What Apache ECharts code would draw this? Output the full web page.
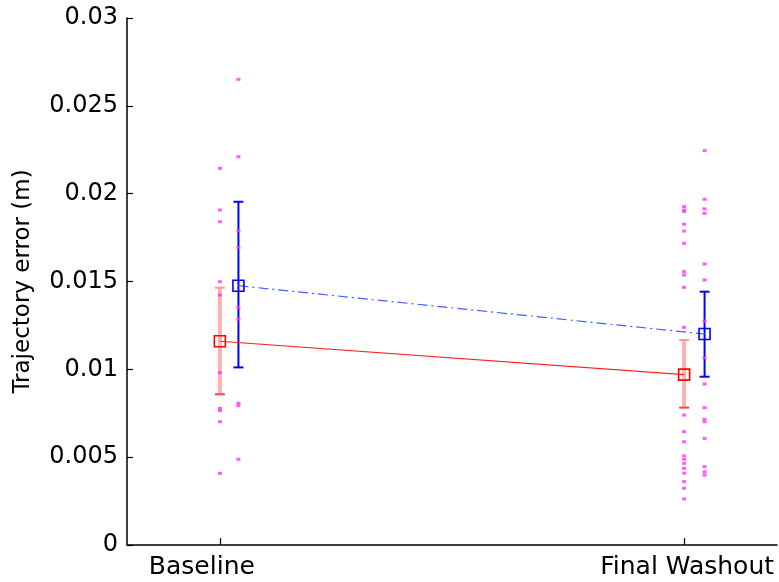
<!DOCTYPE html>
<html>
<head>
<meta charset="utf-8">
<script src="https://cdn.jsdelivr.net/npm/echarts@6/dist/echarts.min.js"></script>
<style>
  html, body { margin: 0; padding: 0; background: #fff; }
  #main { width: 779px; height: 582px; }
</style>
</head>
<body>
<div id="main"></div>
<script>
// categories and tick labels
var categories = ['Baseline', 'Final Washout'];
var yTicks = [0, 0.005, 0.01, 0.015, 0.02, 0.025, 0.03];

// group means and error bars (red = group 1, blue = group 2)
var redMean = [0.0116, 0.0097];
var redLow = [0.00858, 0.00782];
var redHigh = [0.01465, 0.01167];
var blueMean = [0.01476, 0.01201];
var blueLow = [0.01011, 0.00958];
var blueHigh = [0.01954, 0.01442];

// individual subjects (magenta dots)
var redDotsBaseline = [0.02144, 0.01907, 0.0184, 0.01499, 0.01423, 0.00981, 0.00778, 0.00765, 0.00702, 0.00408];
var redDotsWashout = [0.01926, 0.01907, 0.01898, 0.01826, 0.01787, 0.01717, 0.01556, 0.01537, 0.01467, 0.01239,
    0.0074, 0.00645, 0.00588, 0.00507, 0.00488, 0.00465, 0.00437, 0.00409, 0.00361, 0.00323, 0.00262];
var blueDotsBaseline = [0.02651, 0.0221, 0.01789, 0.01693, 0.01353, 0.01285, 0.00807, 0.00793, 0.00488];
var blueDotsWashout = [0.02245, 0.01968, 0.01913, 0.01888, 0.016, 0.01509, 0.01275, 0.01066, 0.00917, 0.00782,
    0.00716, 0.00702, 0.00607, 0.00446, 0.00417, 0.00398];

// x position of each group (category index + small shift for group 2)
var redX = [1, 2];
var blueX = [1.04, 2.044];

var myChart = echarts.init(document.getElementById('main'));

function dots(x, vals) {
    return vals.map(function (v) { return [x, v]; });
}

function errorBar(xs, lo, hi, barColor, barWidth, topCap, botCap) {
    return {
        type: 'custom',
        z: 1,
        silent: true,
        data: xs.map(function (x, i) { return [x, lo[i], hi[i]]; }),
        renderItem: function (params, api) {
            var x = api.value(0);
            var top = api.coord([x, api.value(2)]);
            var bot = api.coord([x, api.value(1)]);
            var w = 5;
            return {
                type: 'group',
                children: [
                    { type: 'line', shape: { x1: top[0], y1: top[1], x2: bot[0], y2: bot[1] },
                      style: { stroke: barColor, lineWidth: barWidth } },
                    { type: 'line', shape: { x1: top[0] - w, y1: top[1], x2: top[0] + w, y2: top[1] },
                      style: { stroke: topCap, lineWidth: 2 } },
                    { type: 'line', shape: { x1: bot[0] - w, y1: bot[1], x2: bot[0] + w, y2: bot[1] },
                      style: { stroke: botCap, lineWidth: 2 } }
                ]
            };
        }
    };
}

var dotStyle = { color: '#ff33ff' };

myChart.setOption({
    animation: false,
    backgroundColor: '#fff',
    grid: { left: 127, right: 2, top: 18, bottom: 37 },
    xAxis: {
        type: 'value',
        min: 0.8,
        max: 2.2,
        splitLine: { show: false },
        axisLine: { lineStyle: { color: '#000', width: 1.5 } },
        axisTick: { inside: true, length: 7, customValues: [1, 2], lineStyle: { color: '#000', width: 1.2 } },
        axisLabel: {
            customValues: [1, 2],
            margin: 10,
            color: '#000',
            fontFamily: 'DejaVu Sans',
            fontSize: 25,
            formatter: function (v) {
                var i = Math.round(v) - 1;
                return i === 0 ? '{b|' + categories[0] + '}' : '{f|' + categories[1] + '}';
            },
            rich: {
                b: { fontFamily: 'DejaVu Sans', fontSize: 25, color: '#000', padding: [0, 36, 0, 0] },
                f: { fontFamily: 'DejaVu Sans', fontSize: 25, color: '#000', padding: [0, 0, 0, 6] }
            }
        }
    },
    yAxis: {
        type: 'value',
        min: yTicks[0],
        max: yTicks[yTicks.length - 1],
        interval: 0.005,
        name: 'Trajectory error (m)',
        nameLocation: 'middle',
        nameGap: 92,
        nameTextStyle: { color: '#000', fontFamily: 'DejaVu Sans', fontSize: 23 },
        splitLine: { show: false },
        axisLine: { show: true, lineStyle: { color: '#000', width: 1.5 } },
        axisTick: { inside: true, length: 6, lineStyle: { color: '#000', width: 1.2 } },
        axisLabel: {
            margin: 9,
            color: '#000',
            fontFamily: 'DejaVu Sans',
            fontSize: 24,
            formatter: function (v) { return v === 0 ? '0' : String(+v.toFixed(3)); }
        }
    },
    series: [
        errorBar(redX, redLow, redHigh, '#ffb0b0', 4, '#ff9a9a', '#ff4040'),
        errorBar(blueX, blueLow, blueHigh, '#0000ff', 2, '#0000ff', '#0000ff'),
        { type: 'scatter', z: 2, symbol: 'rect', symbolSize: [4, 3], itemStyle: dotStyle,
          data: dots(redX[0], redDotsBaseline).concat(dots(redX[1], redDotsWashout)) },
        { type: 'scatter', z: 2, symbol: 'rect', symbolSize: [4, 3], itemStyle: dotStyle,
          data: dots(blueX[0], blueDotsBaseline).concat(dots(blueX[1], blueDotsWashout)) },
        {
            type: 'line', z: 3,
            data: [[redX[0], redMean[0]], [redX[1], redMean[1]]],
            symbol: 'rect', symbolSize: 11,
            itemStyle: { color: 'rgba(0,0,0,0)', borderColor: '#ff0000', borderWidth: 1.6 },
            lineStyle: { color: '#ff2020', width: 1.2 }
        },
        {
            type: 'line', z: 3,
            data: [[blueX[0], blueMean[0]], [blueX[1], blueMean[1]]],
            symbol: 'rect', symbolSize: 11,
            itemStyle: { color: 'rgba(0,0,0,0)', borderColor: '#0000ff', borderWidth: 1.6 },
            lineStyle: { color: '#4060ff', width: 1.2, type: [10, 4, 2, 4] }
        }
    ]
});
</script>
</body>
</html>
